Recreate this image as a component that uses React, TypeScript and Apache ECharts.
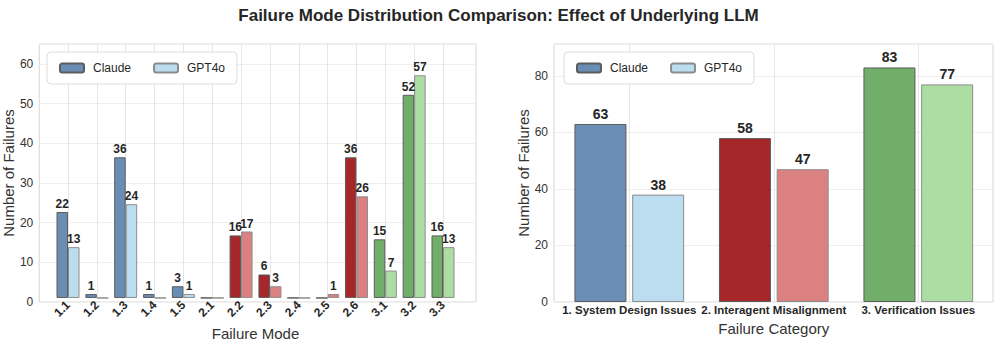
import React, { useEffect, useRef } from "react";
import * as echarts from "echarts";

const modeCategories = ["1.1", "1.2", "1.3", "1.4", "1.5", "2.1", "2.2", "2.3", "2.4", "2.5", "2.6", "3.1", "3.2", "3.3"];
const modeClaude = [22, 1, 36, 1, 3, 0, 16, 6, 0, 0, 36, 15, 52, 16];
const modeGPT4o = [13, 0, 24, 0, 1, 0, 17, 3, 0, 1, 26, 7, 57, 13];

const categoryNames = ["1. System Design Issues", "2. Interagent Misalignment", "3. Verification Issues"];
const categoryClaude = [63, 58, 83];
const categoryGPT4o = [38, 47, 77];

const leftTicks = [0, 10, 20, 30, 40, 50, 60];
const rightTicks = [0, 20, 40, 60, 80];

const darkColors: Record<string, string> = { "1": "#6a8db6", "2": "#a7262a", "3": "#70ae6a" };
const lightColors: Record<string, string> = { "1": "#bcdcef", "2": "#dc8182", "3": "#acdea3" };

const FONT = "'Liberation Sans', Arial, Helvetica, sans-serif";
const TXT = "#262626";

function itemsFor(values: number[], cats: string[], dark: boolean) {
  return values.map((v, i) => ({
    value: v,
    itemStyle: {
      color: (dark ? darkColors : lightColors)[cats[i].charAt(0)],
      borderColor: dark ? "#5c5c5c" : "#8c8c8c",
      borderWidth: 1,
    },
  }));
}

export default function App() {
  const ref = useRef<HTMLDivElement>(null);
  useEffect(() => {
    if (!ref.current) return;
    const chart = echarts.init(ref.current, null, { renderer: "svg" });
    const labelFmt = (p: any) => (p.value ? String(p.value) : "");
    const yLabelFmt = (ticks: number[]) => (v: number) => (ticks.indexOf(v) >= 0 ? String(v) : "");
    const legendBase = {
      data: ["Claude", "GPT4o"],
      orient: "horizontal",
      top: 52,
      itemWidth: 24,
      itemHeight: 9,
      itemGap: 22,
      padding: [10, 12, 10, 12],
      backgroundColor: "rgba(255,255,255,0.9)",
      borderColor: "#dcdcdc",
      borderWidth: 1,
      borderRadius: 4,
      textStyle: { fontFamily: FONT, fontSize: 12, color: TXT, padding: [0, 0, 0, 4] },
      selectedMode: false,
    };
    const leftMax = 65;
    const rightMax = 91.3;
    chart.setOption({
      animation: false,
      backgroundColor: "#ffffff",
      title: {
        text: "Failure Mode Distribution Comparison: Effect of Underlying LLM",
        left: "center",
        top: 2,
        textStyle: { fontFamily: FONT, fontSize: 17, fontWeight: "bold", color: TXT },
      },
      legend: [
        { ...legendBase, left: 47 },
        { ...legendBase, left: 564 },
      ],
      grid: [
        { left: 37, right: 521, top: 44, bottom: 44, show: true, borderColor: "#d6d6d6", borderWidth: 1, backgroundColor: "transparent" },
        { left: 68, right: 554, top: 44, bottom: 44 },
        { left: 554, right: 4, top: 44, bottom: 44, show: true, borderColor: "#d6d6d6", borderWidth: 1, backgroundColor: "transparent" },
        { left: 629.3, right: 78.7, top: 44, bottom: 44 },
      ],
      xAxis: [
        { gridIndex: 0, type: "value", show: false, min: 0, max: 1 },
        {
          gridIndex: 1,
          type: "category",
          data: modeCategories,
          boundaryGap: false,
          name: "Failure Mode",
          nameLocation: "middle",
          nameGap: 22,
          nameTextStyle: { fontFamily: FONT, fontSize: 15, color: "#333" },
          axisLine: { show: false },
          axisTick: { show: false },
          axisLabel: { interval: 0, rotate: 45, margin: 5, fontFamily: FONT, fontSize: 12, fontWeight: "bold", color: TXT },
          splitLine: { show: true, interval: 0, lineStyle: { color: "#e6e6e6", width: 1 } },
        },
        { gridIndex: 2, type: "value", show: false, min: 0, max: 1 },
        {
          gridIndex: 3,
          type: "category",
          data: categoryNames,
          boundaryGap: false,
          name: "Failure Category",
          nameLocation: "middle",
          nameGap: 13,
          nameTextStyle: { fontFamily: FONT, fontSize: 15, color: "#333" },
          axisLine: { show: false },
          axisTick: { show: false },
          axisLabel: { interval: 0, hideOverlap: false, margin: 2, fontFamily: FONT, fontSize: 11.5, fontWeight: "bold", color: TXT },
          splitLine: { show: true, interval: 0, lineStyle: { color: "#e6e6e6", width: 1 } },
        },
      ],
      yAxis: [
        {
          gridIndex: 0,
          type: "value",
          min: 0,
          max: leftMax,
          interval: 10,
          name: "Number of Failures",
          nameLocation: "middle",
          nameGap: 15,
          nameTextStyle: { fontFamily: FONT, fontSize: 15, color: "#333" },
          axisLine: { show: false },
          axisTick: { show: false },
          axisLabel: { formatter: yLabelFmt(leftTicks), margin: 6, fontFamily: FONT, fontSize: 12, color: "#333" },
          splitLine: { show: true, lineStyle: { color: "#efefef", width: 1 } },
        },
        { gridIndex: 1, type: "value", min: 0, max: leftMax, show: false, splitLine: { show: false } },
        {
          gridIndex: 2,
          type: "value",
          min: 0,
          max: rightMax,
          interval: 20,
          name: "Number of Failures",
          nameLocation: "middle",
          nameGap: 19,
          nameTextStyle: { fontFamily: FONT, fontSize: 15, color: "#333" },
          axisLine: { show: false },
          axisTick: { show: false },
          axisLabel: { formatter: yLabelFmt(rightTicks), margin: 6, fontFamily: FONT, fontSize: 12, color: "#333" },
          splitLine: { show: true, lineStyle: { color: "#efefef", width: 1 } },
        },
        { gridIndex: 3, type: "value", min: 0, max: rightMax, show: false, splitLine: { show: false } },
      ],
      series: [
        {
          name: "Claude",
          type: "bar",
          xAxisIndex: 1,
          yAxisIndex: 1,
          clip: false,
          barWidth: 11.5,
          barGap: "0%",
          itemStyle: { color: darkColors["1"], borderColor: "#5c5c5c", borderWidth: 1 },
          label: { show: true, position: "top", distance: 2, formatter: labelFmt, fontFamily: FONT, fontSize: 12, fontWeight: "bold", color: TXT },
          data: itemsFor(modeClaude, modeCategories, true),
        },
        {
          name: "GPT4o",
          type: "bar",
          xAxisIndex: 1,
          yAxisIndex: 1,
          clip: false,
          barWidth: 11.5,
          barGap: "0%",
          itemStyle: { color: lightColors["1"], borderColor: "#8c8c8c", borderWidth: 1 },
          label: { show: true, position: "top", distance: 2, formatter: labelFmt, fontFamily: FONT, fontSize: 12, fontWeight: "bold", color: TXT },
          data: itemsFor(modeGPT4o, modeCategories, false),
        },
        {
          name: "Claude",
          type: "bar",
          xAxisIndex: 3,
          yAxisIndex: 3,
          clip: false,
          barWidth: 52,
          barGap: "11%",
          itemStyle: { color: darkColors["1"], borderColor: "#5c5c5c", borderWidth: 1 },
          label: { show: true, position: "top", distance: 3, formatter: labelFmt, fontFamily: FONT, fontSize: 14, fontWeight: "bold", color: TXT },
          data: itemsFor(categoryClaude, categoryNames, true),
        },
        {
          name: "GPT4o",
          type: "bar",
          xAxisIndex: 3,
          yAxisIndex: 3,
          clip: false,
          barWidth: 52,
          barGap: "11%",
          itemStyle: { color: lightColors["1"], borderColor: "#8c8c8c", borderWidth: 1 },
          label: { show: true, position: "top", distance: 3, formatter: labelFmt, fontFamily: FONT, fontSize: 14, fontWeight: "bold", color: TXT },
          data: itemsFor(categoryGPT4o, categoryNames, false),
        },
      ],
    });
    return () => chart.dispose();
  }, []);
  return <div ref={ref} style={{ width: 997, height: 346, position: "absolute", left: 0, top: 0 }} />;
}
